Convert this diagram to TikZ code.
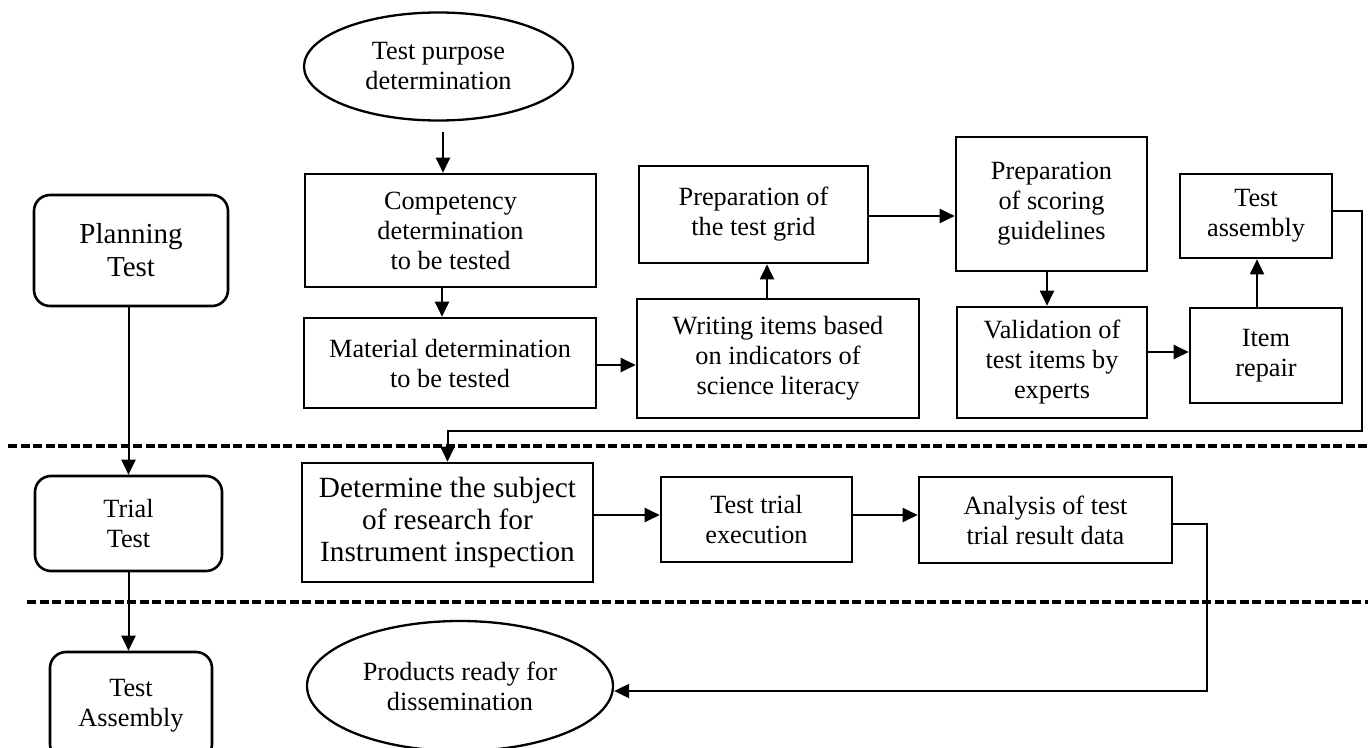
\documentclass[tikz,border=0pt]{standalone}
\usepackage{fontspec}
\setmainfont{Liberation Serif}
\usetikzlibrary{arrows.meta,shapes.geometric}
\newcommand\fsz{\fontsize{26.3}{30}\selectfont}
\newcommand\fszb{\fontsize{29}{33}\selectfont}
\begin{document}
\begin{tikzpicture}[x=1pt,y=-1pt,
  box/.style={draw,line width=2.6pt,rectangle,align=center,inner sep=0pt,font=\fsz},
  rbox/.style={box,rounded corners=16pt},
  ell/.style={draw,line width=2.3pt,ellipse,inner sep=0pt,align=center,font=\fsz},
  conn/.style={line width=2pt,-{Triangle[length=15pt,width=14pt]}},
  sep/.style={line width=4pt,dash pattern=on 9pt off 3.5pt}]
\useasboundingbox (0,0) rectangle (1368,747);
\clip (0,0) rectangle (1368,747);

% separators
\draw[sep] (8,446) -- (1368,446);
\draw[sep] (27,602) -- (1368,602);

% phase boxes
\node[rbox,font=\fszb,minimum width=194pt,minimum height=111pt] (plan) at (131,250.5) {Planning\\Test};
\node[rbox,minimum width=187pt,minimum height=95pt] (trial) at (128.5,523.5) {Trial\\Test};
\node[rbox,minimum width=162pt,minimum height=108pt] (tassem) at (131,706) {Test\\Assembly};

% planning section
\node[ell,minimum width=269pt,minimum height=108pt] (ell1) at (438.5,66.5) {Test purpose\\determination};
\node[box,minimum width=291pt,minimum height=113pt] (comp) at (450.5,230.5) {Competency\\determination\\to be tested};
\node[box,minimum width=292pt,minimum height=90pt] (mat) at (450,363) {Material determination\\to be tested};
\node[box,minimum width=282pt,minimum height=119pt] (writ) at (778,358.5) {Writing items based\\on indicators of\\science literacy};
\node[box,minimum width=229pt,minimum height=97pt] (grid) at (753.5,214.5) {Preparation of\\the test grid};
\node[box,minimum width=191pt,minimum height=134pt] (scor) at (1051.5,204) {Preparation\\of scoring\\guidelines};
\node[box,minimum width=190pt,minimum height=111pt] (valid) at (1052,362.5) {Validation of\\test items by\\experts};
\node[box,minimum width=152pt,minimum height=95pt] (repair) at (1266,355.5) {Item\\repair};
\node[box,minimum width=152pt,minimum height=84pt] (assem) at (1256,216) {Test\\assembly};

% trial section
\node[box,font=\fontsize{29.3}{32}\selectfont,minimum width=291pt,minimum height=119pt] (determ) at (447.5,522.5) {Determine the subject\\of research for\\Instrument inspection};
\node[box,minimum width=191pt,minimum height=85pt] (exec) at (756.5,519.5) {Test trial\\execution};
\node[box,minimum width=253pt,minimum height=86pt] (anal) at (1045.5,520) {Analysis of test\\trial result data};

% assembly section
\node[ell,minimum width=306pt,minimum height=130pt] (prod) at (460,686) {Products ready for\\dissemination};

\coordinate (c1) at (1362,431);
\coordinate (c2) at (1207,691);

% connectors
\draw[conn] (trial.north |- plan.south) -- (trial.north);
\draw[conn] (trial.south) -- (trial.south |- tassem.north);
\draw[conn] ([xshift=4.5pt,yshift=-10pt]ell1.south) -- ([xshift=4.5pt]ell1.south |- comp.north);
\draw[conn] ([xshift=-8.5pt]comp.south) -- ([xshift=-8.5pt]comp.south |- mat.north);
\draw[conn] ([yshift=-2pt]mat.east) -- ([yshift=-2pt]mat.east -| writ.west);
\draw[conn] ([xshift=-11pt]writ.north) -- ([xshift=-11pt]writ.north |- grid.south);
\draw[conn] ([yshift=-1.5pt]grid.east) -- ([yshift=-1.5pt]grid.east -| scor.west);
\draw[conn] ([xshift=-4.5pt]scor.south) -- ([xshift=-4.5pt]scor.south |- valid.north);
\draw[conn] ([yshift=10.5pt]valid.east) -- ([yshift=10.5pt]valid.east -| repair.west);
\draw[conn] ([xshift=-9pt]repair.north) -- ([xshift=-9pt]repair.north |- assem.south);
\draw[conn] ([yshift=5pt]assem.east) -| (c1) -| (determ.north);
\draw[conn] ([yshift=7.5pt]determ.east) -- ([yshift=7.5pt]determ.east -| exec.west);
\draw[conn] ([yshift=4.5pt]exec.east) -- ([yshift=4.5pt]exec.east -| anal.west);
\draw[conn] ([yshift=-4pt]anal.east) -| (c2) -- ([yshift=-5pt]prod.east);
\end{tikzpicture}
\end{document}
